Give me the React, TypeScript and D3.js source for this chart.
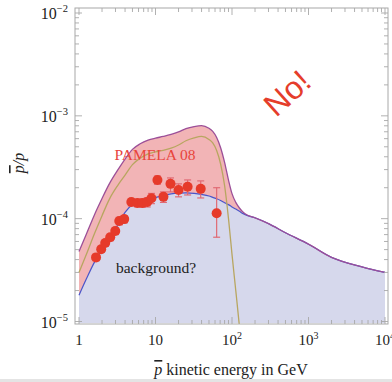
import React from 'react';
import * as d3 from 'd3';

// Model curves on a shared kinetic-energy grid (GeV)
const energyGrid = [1, 1.25, 1.6, 2, 2.5, 3.2, 4, 5, 6.3, 8, 10, 12.6, 16, 20, 25, 32, 40, 50, 56, 63, 71, 80, 90, 100, 112, 125, 140, 160, 200, 300, 500, 1000, 2000, 5000, 10000];
const backgroundRatio = [1.8e-5, 2.6e-5, 3.8e-5, 5.0e-5, 6.4e-5, 8.6e-5, 1.15e-4, 1.37e-4, 1.47e-4, 1.54e-4, 1.6e-4, 1.68e-4, 1.74e-4, 1.77e-4, 1.78e-4, 1.76e-4, 1.72e-4, 1.66e-4, 1.61e-4, 1.56e-4, 1.5e-4, 1.43e-4, 1.37e-4, 1.3e-4, 1.24e-4, 1.18e-4, 1.12e-4, 1.07e-4, 1.02e-4, 8.95e-5, 7.3e-5, 5.65e-5, 4.2e-5, 3.4e-5, 3.0e-5];
const signalRatio = [3.0e-5, 4.5e-5, 7.2e-5, 1.07e-4, 1.55e-4, 2.1e-4, 2.65e-4, 3.35e-4, 3.88e-4, 4.27e-4, 4.47e-4, 4.62e-4, 4.85e-4, 5.2e-4, 5.72e-4, 6.1e-4, 6.3e-4, 5.9e-4, 5.45e-4, 4.6e-4, 3.4e-4, 2.1e-4, 1.0e-4, 4.5e-5, 2.0e-5, 9e-6, 3.5e-6, 1e-6, 0, 0, 0, 0, 0, 0, 0];

// PAMELA 2008 antiproton/proton ratio with error-bar bounds
const pamelaEnergy = [1.67, 1.95, 2.2, 2.56, 2.98, 3.36, 3.9, 4.83, 5.8, 6.75, 7.8, 8.85, 10.6, 12.7, 15.7, 20, 26.3, 39, 63];
const pamelaRatio = [4.2e-5, 5.05e-5, 5.8e-5, 6.6e-5, 7.6e-5, 9.5e-5, 9.9e-5, 1.45e-4, 1.42e-4, 1.42e-4, 1.45e-4, 1.58e-4, 2.38e-4, 1.63e-4, 2.18e-4, 1.9e-4, 2.04e-4, 1.95e-4, 1.13e-4];
const pamelaHigh = [4.5e-5, 5.4e-5, 6.2e-5, 7.1e-5, 8.2e-5, 1.03e-4, 1.07e-4, 1.57e-4, 1.54e-4, 1.55e-4, 1.6e-4, 1.76e-4, 2.6e-4, 1.82e-4, 2.49e-4, 2.18e-4, 2.38e-4, 2.33e-4, 2.0e-4];
const pamelaLow = [3.9e-5, 4.7e-5, 5.4e-5, 6.1e-5, 7.0e-5, 8.7e-5, 9.1e-5, 1.33e-4, 1.3e-4, 1.29e-4, 1.3e-4, 1.4e-4, 2.16e-4, 1.44e-4, 1.82e-4, 1.63e-4, 1.7e-4, 1.59e-4, 6.6e-5];

const xTickValues = [1, 10, 100, 1000, 10000];
const xTickExponents = ['', '', '2', '3', '4'];
const yTickValues = [1e-2, 1e-3, 1e-4, 1e-5];
const yTickExponents = ['\u22122', '\u22123', '\u22124', '\u22125'];

const W = 392;
const H = 382;
const frame = { left: 75, right: 388, top: 8, bottom: 324 };

const x = d3.scaleLog().domain([1, 1e4]).range([79, 385]);
const y = d3.scaleLog().domain([1e-5, 1e-2]).range([321.5, 13]);

const SERIF = '"Liberation Serif", "DejaVu Serif", serif';
const SANS = '"Liberation Sans", Arial, sans-serif';
const FRAME_COLOR = '#a8a8a8';

type Row = { e: number; bg: number; sig: number; total: number };

export default function App() {
  const rows: Row[] = energyGrid.map((e, i) => ({
    e,
    bg: backgroundRatio[i],
    sig: signalRatio[i],
    total: backgroundRatio[i] + signalRatio[i],
  }));

  const base = frame.bottom - 1;
  const bgArea = d3.area<Row>().x(d => x(d.e)).y0(base).y1(d => y(d.bg)).curve(d3.curveMonotoneX);
  const excessArea = d3.area<Row>().x(d => x(d.e)).y0(d => y(d.bg)).y1(d => y(d.total)).curve(d3.curveMonotoneX);
  const bgLine = d3.line<Row>().x(d => x(d.e)).y(d => y(d.bg)).curve(d3.curveMonotoneX);
  const totalLine = d3.line<Row>().x(d => x(d.e)).y(d => y(d.total)).curve(d3.curveMonotoneX);
  const signalLine = d3.line<Row>().defined(d => d.sig > 0).x(d => x(d.e)).y(d => y(d.sig)).curve(d3.curveMonotoneX);

  const xTicks = x.ticks();
  const yTicks = y.ticks();
  const isMajor = (v: number) => Math.abs(Math.log10(v) - Math.round(Math.log10(v))) < 1e-6;

  return (
    <svg width={W} height={H} style={{ position: 'fixed', left: 0, top: 0, background: '#fff' }}>
      <defs>
        <clipPath id="plot-clip">
          <rect x={frame.left} y={frame.top} width={frame.right - frame.left} height={frame.bottom - frame.top} />
        </clipPath>
      </defs>

      <g clipPath="url(#plot-clip)">
        <path d={bgArea(rows) ?? ''} fill="#d6d8ec" />
        <path d={excessArea(rows) ?? ''} fill="#f2b4b6" />
        <path d={bgLine(rows) ?? ''} fill="none" stroke="#4b55c9" strokeWidth={1.2} />
        <path d={signalLine(rows) ?? ''} fill="none" stroke="#b8a660" strokeWidth={1.3} />
        <path d={totalLine(rows) ?? ''} fill="none" stroke="#9c4f98" strokeWidth={1.3} />

        {pamelaEnergy.map((e, i) => {
          const cx = x(e);
          return (
            <g key={i} stroke="#e06a74" strokeWidth={1.2}>
              <line x1={cx} x2={cx} y1={y(pamelaHigh[i])} y2={y(pamelaLow[i])} />
              <line x1={cx - 3.5} x2={cx + 3.5} y1={y(pamelaHigh[i])} y2={y(pamelaHigh[i])} />
              <line x1={cx - 3.5} x2={cx + 3.5} y1={y(pamelaLow[i])} y2={y(pamelaLow[i])} />
            </g>
          );
        })}
        {pamelaEnergy.map((e, i) => (
          <circle key={i} cx={x(e)} cy={y(pamelaRatio[i])} r={5} fill="#e63a2a" />
        ))}
      </g>

      {/* frame */}
      <rect x={frame.left} y={frame.top} width={frame.right - frame.left} height={frame.bottom - frame.top}
        fill="none" stroke={FRAME_COLOR} strokeWidth={1} />

      {/* x ticks, bottom and top */}
      {xTicks.map((v, i) => {
        const len = isMajor(v) ? 7 : 4;
        const px = x(v);
        return (
          <g key={i} stroke={FRAME_COLOR} strokeWidth={0.9}>
            <line x1={px} x2={px} y1={frame.bottom} y2={frame.bottom - len} />
            <line x1={px} x2={px} y1={frame.top} y2={frame.top + len} />
          </g>
        );
      })}
      {/* y ticks, left and right */}
      {yTicks.map((v, i) => {
        const len = isMajor(v) ? 7 : 4;
        const py = y(v);
        return (
          <g key={i} stroke={FRAME_COLOR} strokeWidth={0.9}>
            <line x1={frame.left} x2={frame.left + len} y1={py} y2={py} />
            <line x1={frame.right} x2={frame.right - len} y1={py} y2={py} />
          </g>
        );
      })}

      {/* tick labels */}
      {xTickValues.map((v, i) => (
        <text key={i} x={x(v)} y={345} textAnchor="middle" fontFamily={SERIF} fontSize={15} fill="#222">
          {v === 1 ? '1' : '10'}
          {xTickExponents[i] && <tspan dy={-6} fontSize={10}>{xTickExponents[i]}</tspan>}
        </text>
      ))}
      {yTickValues.map((v, i) => (
        <text key={i} x={68} y={y(v) + 6} textAnchor="end" fontFamily={SERIF} fontSize={16} fill="#222">
          10<tspan dy={-7} fontSize={10.5}>{yTickExponents[i]}</tspan>
        </text>
      ))}

      {/* axis titles */}
      <text transform="translate(24,163) rotate(-90)" textAnchor="middle" fontFamily={SERIF} fontSize={16}
        fontStyle="italic" fill="#222">
        <tspan textDecoration="overline">p</tspan>/p
      </text>
      <text x={231} y={375} textAnchor="middle" fontFamily={SERIF} fontSize={16} fill="#222">
        <tspan fontStyle="italic" textDecoration="overline">p</tspan> kinetic energy in GeV
      </text>

      {/* annotations */}
      <text x={155} y={160} textAnchor="middle" fontFamily={SERIF} fontSize={15.5} fill="#e8453c">PAMELA 08</text>
      <text x={156} y={273} textAnchor="middle" fontFamily={SERIF} fontSize={15.5} fill="#222">background?</text>
      <text transform="translate(287,93) rotate(-42)" textAnchor="middle" dy="0.35em" fontFamily={SANS}
        fontSize={32} fill="#e53d2b">No!</text>

      <rect x={0} y={379} width={W} height={3} fill="#e4e4e4" />
    </svg>
  );
}
